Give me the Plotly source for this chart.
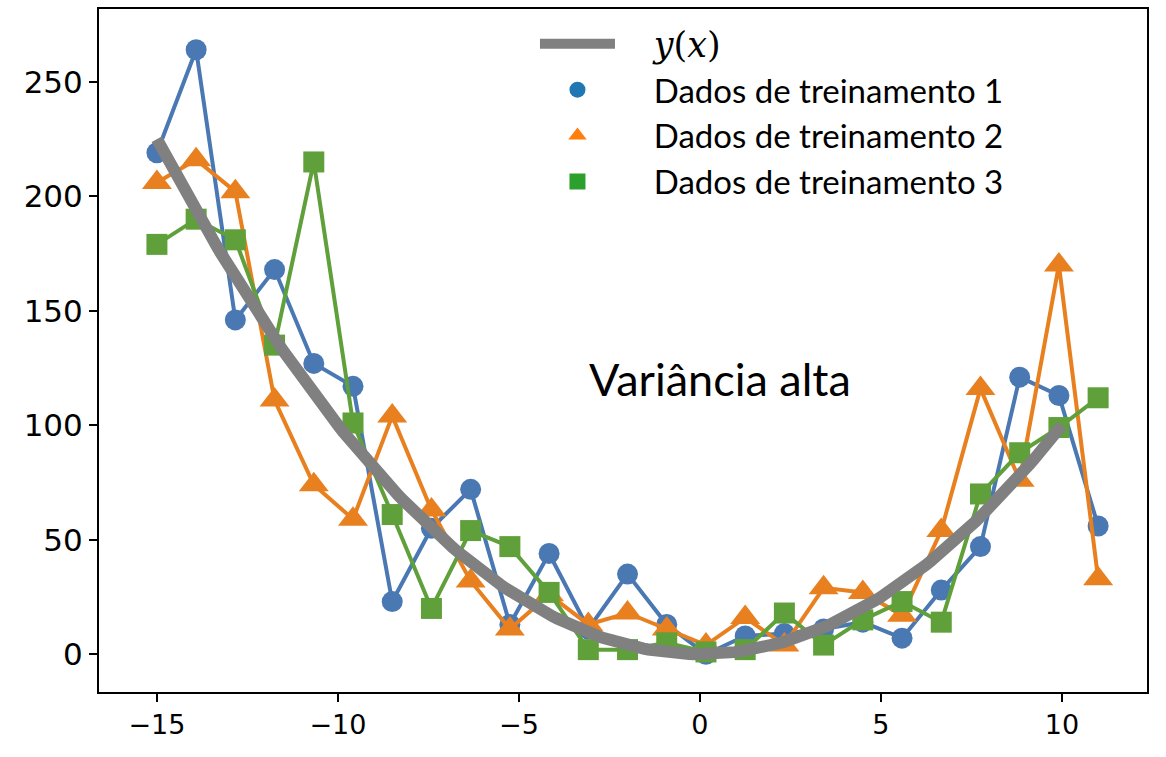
import numpy as np
import plotly.graph_objects as go

# Sample positions (25 evenly spaced points from -15 to 11)
x_train = np.linspace(-15, 11, 25)

# Three noisy training sets around y = x^2
train_1 = [219, 264, 146, 168, 127, 117, 23, 55, 72, 13, 44, 11, 35, 13, 0,
           8, 9, 11, 14, 7, 28, 47, 121, 113, 56]
train_2 = [206, 216, 202, 111, 74, 59, 104, 63, 32, 11, 26, 13, 18, 11, 4,
           16, 4, 29, 27, 17, 54, 116, 76, 170, 33]
train_3 = [179, 190, 181, 135, 215, 101, 61, 20, 54, 47, 27, 2, 2, 5, 1,
           2, 18, 4, 15, 23, 14, 70, 88, 99, 112]

# True function y(x) = x^2
x_true = np.linspace(-15, 10, 200)
y_true = x_true ** 2

line_colors = ["#4a78b3", "#e8801f", "#5fa03a"]
legend_colors = ["#1f77b4", "#ff7f0e", "#2ca02c"]
symbols = ["circle", "triangle-up", "square"]
sizes = [21, 26, 21]
names = ["Dados de treinamento 1", "Dados de treinamento 2", "Dados de treinamento 3"]
series = [train_1, train_2, train_3]

TEXT_FONT = "Lato"
PAD = "\u00a0" * 4  # gap between legend symbol and label

fig = go.Figure()

# Legend entries (marker only)
fig.add_trace(go.Scatter(
    x=[None], y=[None], mode="lines",
    line=dict(color="#808080", width=10),
    name=PAD + "<span style='font-family:DejaVu Serif;font-size:35px'><i>y</i>(<i>x</i>)</span>",
    showlegend=True,
))
for name, col, sym in zip(names, legend_colors, symbols):
    fig.add_trace(go.Scatter(
        x=[None], y=[None], mode="markers",
        marker=dict(color=col, symbol=sym, size=16),
        name=PAD + name, showlegend=True,
    ))

# Training data
for ys, col, sym, sz in zip(series, line_colors, symbols, sizes):
    fig.add_trace(go.Scatter(
        x=x_train, y=ys, mode="lines+markers",
        line=dict(color=col, width=4),
        marker=dict(color=col, symbol=sym, size=sz, line=dict(width=0)),
        showlegend=False,
    ))

# True curve on top
fig.add_trace(go.Scatter(
    x=x_true, y=y_true, mode="lines",
    line=dict(color="#808080", width=12),
    showlegend=False,
))

fig.add_annotation(
    x=0.55, y=120, text="Variância alta", showarrow=False,
    font=dict(family=TEXT_FONT, size=45, color="black"),
)

axis_common = dict(
    showgrid=False, zeroline=False, showline=True, mirror=True,
    linecolor="black", linewidth=2, ticks="outside", ticklen=8,
    tickwidth=2, tickcolor="black",
)

fig.update_layout(
    width=1166, height=757,
    margin=dict(l=99, r=19, t=7, b=65),
    plot_bgcolor="white", paper_bgcolor="white",
    xaxis=dict(range=[-16.6, 12.35], tickvals=[-15, -10, -5, 0, 5, 10],
               ticktext=["\u221215", "\u221210", "\u22125", "0", "5", "10"],
               tickfont=dict(family="DejaVu Sans", size=27, color="black"),
               **axis_common),
    yaxis=dict(range=[-16.5, 281.8], tickvals=[0, 50, 100, 150, 200, 250],
               tickfont=dict(family="DejaVu Sans", size=31, color="black"),
               **axis_common),
    legend=dict(
        x=0.416, y=0.99, xanchor="left", yanchor="top",
        bgcolor="rgba(255,255,255,0)", borderwidth=0,
        font=dict(family=TEXT_FONT, size=33, color="black"),
        itemwidth=75,
    ),
)

fig.write_html("out.html")
